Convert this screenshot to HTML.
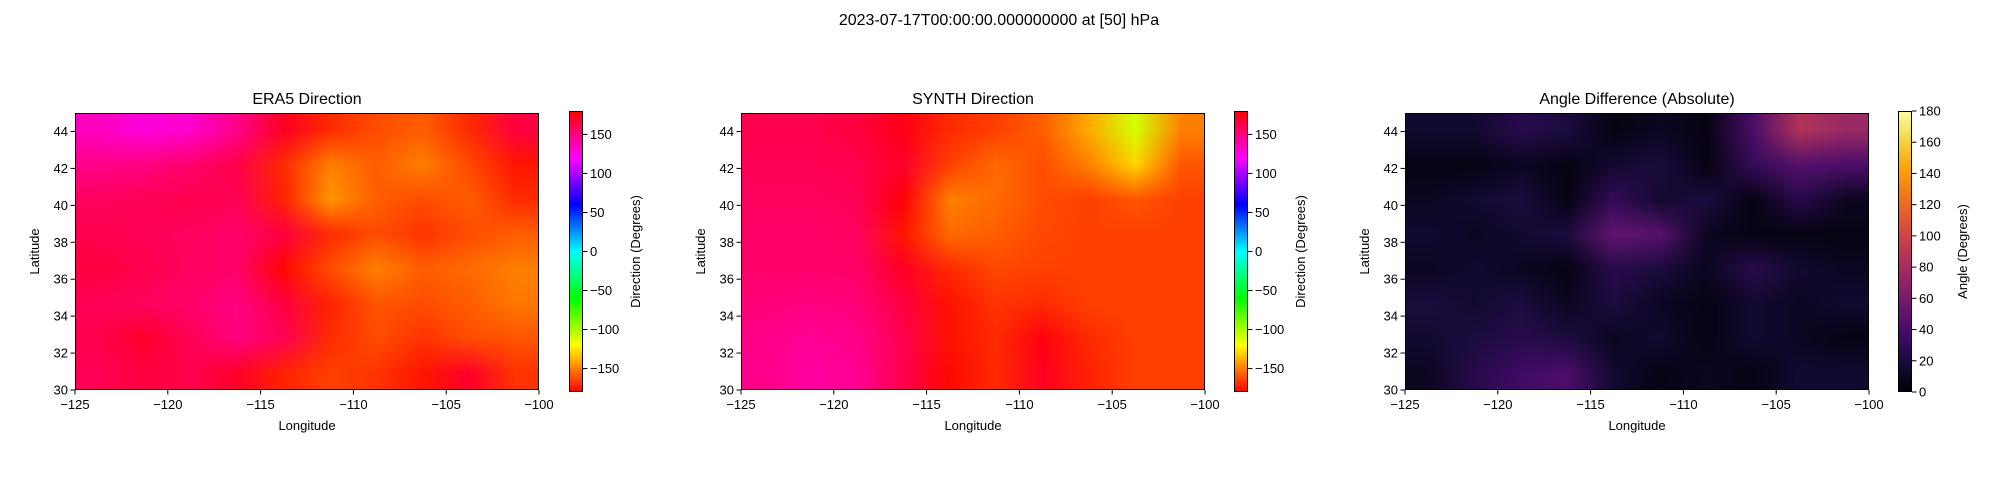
<!DOCTYPE html>
<html><head><meta charset="utf-8"><style>
html,body{margin:0;padding:0;background:#fff;width:1999px;height:499px;overflow:hidden;font-family:"Liberation Sans","DejaVu Sans",sans-serif}
#base,#over{position:absolute;left:0;top:0}
#over{pointer-events:none}
canvas{position:absolute}
</style></head><body>
<svg id="base" width="1999" height="499"></svg>
<canvas id="c0"></canvas>
<canvas id="c1"></canvas>
<canvas id="c2"></canvas>
<canvas id="cb0"></canvas>
<canvas id="cb1"></canvas>
<canvas id="cb2"></canvas>
<svg id="over" width="1999" height="499"></svg>
<script>
// grid data: rows from north (45) to south (30), cols from west (-125) to east (-100)
const era5Values = [
[135,128,132,148,172,-170,-162,-158,-170,165],
[148,150,155,163,-170,-150,-158,-150,-163,-175],
[158,160,162,160,-172,-145,-158,-162,-158,-170],
[162,160,158,155,165,-170,-162,-168,-162,-158],
[165,162,158,155,-178,-162,-150,-158,-155,-150],
[160,158,155,150,165,-172,-160,-162,-158,-152],
[162,170,160,150,160,-170,-162,-168,-162,-160],
[160,165,162,170,-172,-165,-168,-175,170,-168]];
const synthValues = [
[162,162,165,175,-170,-165,-158,-140,-110,-150],
[160,160,162,170,-165,-155,-162,-150,-130,-160],
[158,158,160,178,-150,-155,-162,-165,-160,-165],
[156,156,158,-175,-155,-158,-163,-165,-165,-165],
[155,155,156,172,-170,-163,-165,-165,-165,-165],
[152,150,152,165,-176,-168,-170,-165,-165,-165],
[148,145,148,162,-176,-170,176,-170,-165,-165],
[148,142,146,162,-178,-170,172,-172,-165,-165]];
const diffValues = [
[15,15,25,20,5,10,5,40,85,75],
[5,5,10,5,15,20,5,30,45,40],
[10,15,20,5,30,15,20,5,25,10],
[15,10,15,20,50,45,10,5,5,5],
[10,15,10,5,25,20,10,25,15,10],
[20,15,20,10,20,10,5,15,10,15],
[15,20,25,20,10,15,5,15,10,5],
[10,25,35,40,15,5,10,5,15,15]];
const xTicks = [-125,-120,-115,-110,-105,-100];
const yTicks = [30,32,34,36,38,40,42,44];
const dirTicks = [-150,-100,-50,0,50,100,150];
const angTicks = [0,20,40,60,80,100,120,140,160,180];
const titles = ["ERA5 Direction","SYNTH Direction","Angle Difference (Absolute)"];

const NS="http://www.w3.org/2000/svg";
const base=document.getElementById('base'), over=document.getElementById('over');
function el(parent,tag,attrs,txt){const e=document.createElementNS(NS,tag);for(const k in attrs)e.setAttribute(k,attrs[k]);if(txt!==undefined)e.textContent=txt;parent.appendChild(e);return e;}
const fmt=v=>String(v).replace('-','\u2212');

function hsvColor(v){let t=(v+180)/360;t=Math.min(1,Math.max(0,t));const h=t*6;const i=Math.floor(h)%6,f=h-Math.floor(h);
 const q=1-f;let r,g,b;switch(i){case 0:r=1;g=f;b=0;break;case 1:r=q;g=1;b=0;break;case 2:r=0;g=1;b=f;break;case 3:r=0;g=q;b=1;break;case 4:r=f;g=0;b=1;break;default:r=1;g=0;b=q;}
 return [r*255,g*255,b*255];}
const inf=["#000004","#160b39","#420a68","#6a176e","#932667","#bc3754","#dd513a","#f37819","#fca50a","#f6d746","#fcffa4"].map(h=>[parseInt(h.substr(1,2),16),parseInt(h.substr(3,2),16),parseInt(h.substr(5,2),16)]);
function infColor(v){let t=Math.min(1,Math.max(0,v/180))*10;const i=Math.min(9,Math.floor(t)),f=t-i;return inf[i].map((c,k)=>c+(inf[i+1][k]-c)*f);}

const PW=464,PH=277,PY=113;
const plots=[{x:75,data:era5Values,cmap:hsvColor,cb:569,lo:-180,hi:180,ticks:dirTicks,label:"Direction (Degrees)"},
 {x:741,data:synthValues,cmap:hsvColor,cb:1234,lo:-180,hi:180,ticks:dirTicks,label:"Direction (Degrees)"},
 {x:1405,data:diffValues,cmap:infColor,cb:1898,lo:0,hi:180,ticks:angTicks,label:"Angle (Degrees)"}];

el(base,'rect',{x:0,y:0,width:1999,height:499,fill:'#fff'});
const st=el(base,'text',{x:999,y:25,'text-anchor':'middle','font-size':'16'},"2023-07-17T00:00:00.000000000 at [50] hPa");


plots.forEach((p,pi)=>{
 const X=lon=>p.x+(lon+125)/25*PW, Y=lat=>PY+(45-lat)/15*PH;
 const cv=document.getElementById('c'+pi);cv.width=PW;cv.height=PH;cv.style.left=p.x+'px';cv.style.top=PY+'px';
 const ctx=cv.getContext('2d');const img=ctx.createImageData(PW,PH);
 const rows=p.data.length,cols=p.data[0].length;
 const cg=p.data.map(r=>r.map(v=>p.cmap(v)));
 for(let py=0;py<PH;py++){
  const lat=45-(py+0.5)/PH*15;let fr=(45-lat)/15*rows-0.5;fr=Math.max(0,Math.min(rows-1,fr));const r0=Math.floor(fr),r1=Math.min(rows-1,r0+1),wr=fr-r0;
  for(let px=0;px<PW;px++){
   const lon=-125+(px+0.5)/PW*25;let fc=(lon+125)/25*cols-0.5;fc=Math.max(0,Math.min(cols-1,fc));const c0=Math.floor(fc),c1=Math.min(cols-1,c0+1),wc=fc-c0;
   const o=(py*PW+px)*4;
   for(let k=0;k<3;k++){const a=cg[r0][c0][k]*(1-wc)+cg[r0][c1][k]*wc,b=cg[r1][c0][k]*(1-wc)+cg[r1][c1][k]*wc;img.data[o+k]=a*(1-wr)+b*wr;}
   img.data[o+3]=255;}}
 ctx.putImageData(img,0,0);
 const fr=el(over,'rect',{x:p.x+0.5,y:PY+0.5,width:PW-1,height:PH-1,fill:'none',stroke:'#000','stroke-width':1});
 
 const t=el(base,'text',{x:p.x+PW/2,y:104,'text-anchor':'middle','font-size':'16'},titles[pi]);
 
 xTicks.forEach(v=>{const x=X(v);el(base,'line',{x1:x,x2:x,y1:PY+PH,y2:PY+PH+4.5,stroke:'#000'});
  const tx=el(base,'text',{x:x,y:PY+PH+19,'text-anchor':'middle','font-size':'13'},fmt(v));});
 yTicks.forEach(v=>{const y=Y(v);el(base,'line',{x1:p.x-4.5,x2:p.x,y1:y,y2:y,stroke:'#000'});
  const ty=el(base,'text',{x:p.x-7,y:y+4.5,'text-anchor':'end','font-size':'13'},fmt(v));});
 const xl=el(base,'text',{x:p.x+PW/2,y:430,'text-anchor':'middle','font-size':'13'},"Longitude");
 const yl=el(base,'text',{x:0,y:0,'text-anchor':'middle','font-size':'13',transform:`translate(${p.x-36},${PY+PH/2}) rotate(-90)`},"Latitude");
 const CT=111,CH=281,CW=14;const cb=document.getElementById('cb'+pi);cb.width=CW;cb.height=CH;cb.style.left=p.cb+'px';cb.style.top=CT+'px';
 const cc=cb.getContext('2d');for(let y=0;y<CH;y++){const v=p.hi-(y+0.5)/CH*(p.hi-p.lo);const c=p.cmap(v);cc.fillStyle=`rgb(${c[0]|0},${c[1]|0},${c[2]|0})`;cc.fillRect(0,y,CW,1);}
 el(over,'rect',{x:p.cb+0.5,y:CT+0.5,width:CW-1,height:CH-1,fill:'none',stroke:'#000'});
 const CY=v=>CT+(p.hi-v)/(p.hi-p.lo)*CH;
 p.ticks.forEach(v=>{const y=CY(v);el(base,'line',{x1:p.cb+CW,x2:p.cb+CW+4.5,y1:y,y2:y,stroke:'#000'});
  const tl=el(base,'text',{x:p.cb+CW+7,y:y+4.5,'font-size':'13'},fmt(v));});
 const cl=el(base,'text',{x:0,y:0,'text-anchor':'middle','font-size':'13',transform:`translate(${p.cb+CW+(pi==2?55:57)},${CT+CH/2}) rotate(-90)`},p.label);
 
});
</script>
</body></html>
